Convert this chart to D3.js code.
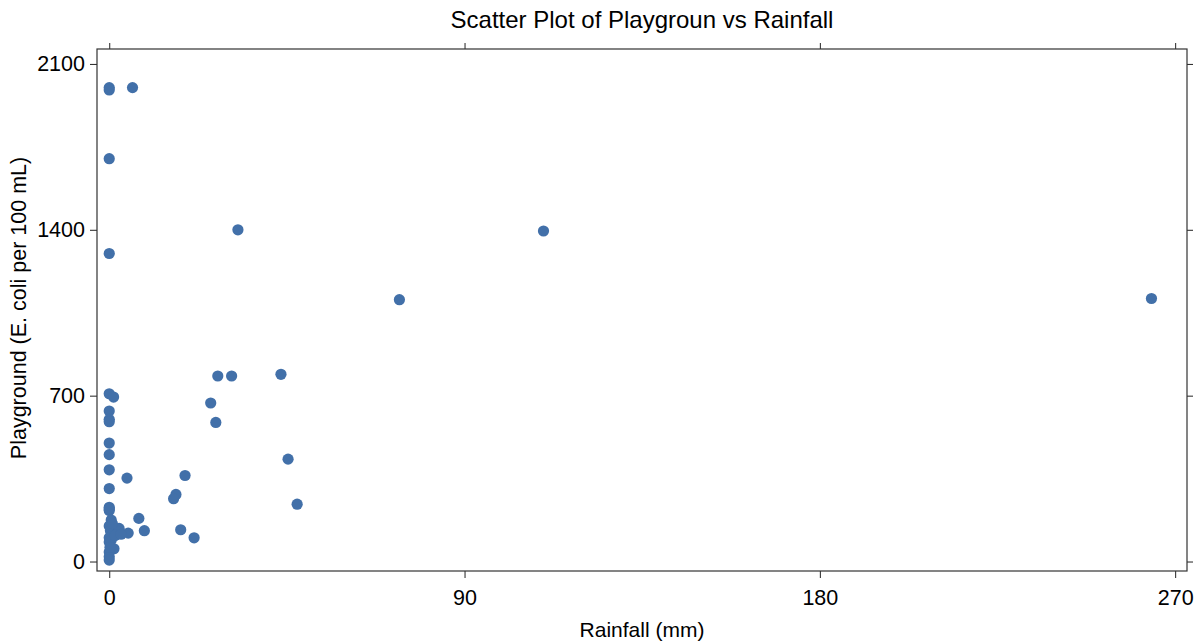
<!DOCTYPE html>
<html>
<head>
<meta charset="utf-8">
<script src="https://cdn.jsdelivr.net/npm/d3@7"></script>
<style>
  body { margin: 0; background: #fff; }
  text { font-family: "Liberation Sans", Arial, sans-serif; }
</style>
</head>
<body>
<svg id="chart" width="1204" height="644"></svg>
<script>
// rainfall (mm) and playground E. coli counts
var rainfall = [
    0, 0, 5.9, 0, 32.6, 110, 0, 73.5, 264,
    27.5, 31, 43.5, 0, 1.1, 25.7, 0, 0, 0, 27,
    0, 0, 45.3, 0, 4.5, 19.2, 0, 16.9, 16.3, 47.6,
    0, 0, 7.5, 4.8, 8.9, 18.1, 21.5,
    0, 0.5, 0, 0.3, 1, 2, 0, 0.5, 0, 1.2, 0, 0, 0, 2.5, 1.5, 3, 0.8, 0.2
];
var playground = [
    2000, 1990, 2000, 1700, 1400, 1395, 1300, 1105, 1110,
    783, 783, 790, 708, 694, 669, 635, 600, 590, 587,
    500, 451, 432, 387, 352, 363, 308, 283, 265, 242,
    229, 215, 182, 120, 130, 134, 100,
    222, 175, 150, 130, 120, 117, 100, 90, 82, 54, 40, 20, 6, 140, 110, 115, 160, 60
];
var xTicks = [0, 90, 180, 270];
var yTicks = [0, 700, 1400, 2100];

var svg = d3.select("#chart");
var margin = {top: 49, right: 17, bottom: 73, left: 97};
var width = 1204 - margin.left - margin.right;
var height = 644 - margin.top - margin.bottom;

var x = d3.scaleLinear().domain([-3.1, 273]).range([0, width]);
var y = d3.scaleLinear().domain([-40, 2163]).range([height, 0]);

var g = svg.append("g")
    .attr("transform", "translate(" + margin.left + "," + margin.top + ")");

// ticks on all four sides, labels only bottom and left
var bottom = g.append("g")
    .attr("transform", "translate(0," + height + ")")
    .call(d3.axisBottom(x).tickValues(xTicks).tickSize(7).tickPadding(12).tickFormat(d3.format("d")));
var left = g.append("g")
    .call(d3.axisLeft(y).tickValues(yTicks).tickSize(7).tickPadding(5).tickFormat(d3.format("d")));
var top_ = g.append("g")
    .call(d3.axisTop(x).tickValues(xTicks).tickSize(6).tickFormat(""));
var right = g.append("g")
    .attr("transform", "translate(" + width + ",0)")
    .call(d3.axisRight(y).tickValues(yTicks).tickSize(6).tickFormat(""));

[bottom, left, top_, right].forEach(function(a) {
    a.select(".domain").remove();
    a.selectAll("line").attr("stroke", "#222");
    a.selectAll("text")
        .attr("font-family", "Liberation Sans, Arial, sans-serif")
        .attr("font-size", "21.5px")
        .attr("fill", "#000");
});

g.append("rect")
    .attr("x", 0)
    .attr("y", 0)
    .attr("width", width)
    .attr("height", height)
    .attr("fill", "none")
    .attr("stroke", "#333")
    .attr("stroke-width", 1.2);

g.selectAll("circle.pt")
    .data(rainfall)
    .enter()
    .append("circle")
    .attr("class", "pt")
    .attr("cx", function(d) { return x(d); })
    .attr("cy", function(d, i) { return y(playground[i]); })
    .attr("r", 5.6)
    .attr("fill", "#4270a9");

svg.append("text")
    .attr("x", margin.left + width / 2)
    .attr("y", 28)
    .attr("text-anchor", "middle")
    .attr("font-size", "24px")
    .attr("fill", "#000")
    .text("Scatter Plot of Playgroun vs Rainfall");

svg.append("text")
    .attr("x", margin.left + width / 2)
    .attr("y", 637)
    .attr("text-anchor", "middle")
    .attr("font-size", "21px")
    .attr("fill", "#000")
    .text("Rainfall (mm)");

svg.append("text")
    .attr("transform", "translate(26," + (margin.top + height / 2 - 2) + ") rotate(-90)")
    .attr("text-anchor", "middle")
    .attr("font-size", "21.5px")
    .attr("fill", "#000")
    .text("Playground (E. coli per 100 mL)");
</script>
</body>
</html>
